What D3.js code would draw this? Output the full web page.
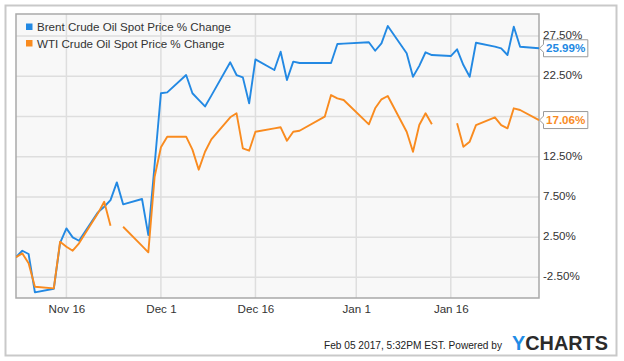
<!DOCTYPE html>
<html>
<head>
<meta charset="utf-8">
<script src="https://cdn.jsdelivr.net/npm/d3@7"></script>
<style>
  html, body { margin: 0; padding: 0; background: #fff; }
  svg { display: block; font-family: "Liberation Sans", Arial, sans-serif; }
</style>
</head>
<body>
<svg id="chart" width="624" height="361"></svg>
<script>
// ---- data ----
const dates = [
  "2016-11-08","2016-11-09","2016-11-10","2016-11-11","2016-11-14","2016-11-15","2016-11-16","2016-11-17","2016-11-18",
  "2016-11-21","2016-11-22","2016-11-23","2016-11-24","2016-11-25","2016-11-28","2016-11-29","2016-11-30",
  "2016-12-01","2016-12-02","2016-12-05","2016-12-06","2016-12-07","2016-12-08","2016-12-09",
  "2016-12-12","2016-12-13","2016-12-14","2016-12-15","2016-12-16","2016-12-19","2016-12-20","2016-12-21",
  "2016-12-22","2016-12-23","2016-12-27","2016-12-28","2016-12-29","2016-12-30",
  "2017-01-03","2017-01-04","2017-01-05","2017-01-06","2017-01-09","2017-01-10","2017-01-11","2017-01-12",
  "2017-01-13","2017-01-16","2017-01-17","2017-01-18","2017-01-19","2017-01-20","2017-01-23","2017-01-24",
  "2017-01-25","2017-01-26","2017-01-27","2017-01-30"
];
const brent = [
  0.00, 0.81, 0.40, -4.37, -3.92, 1.80, 3.59, 2.47, 2.05,
  5.58, 6.28, 7.11, 9.31, 6.58, 7.24, 2.76, 11.50,
  20.39, 20.50, 22.66, 20.39, 19.58, 18.75, 20.10,
  24.24, 22.66, 22.37, 19.14, 24.61, 23.28, 25.56, 22.04,
  24.32, 24.15, 24.15, 24.15, 26.52, 26.57,
  26.73, 25.68, 26.60, 28.76, 25.36, 22.45, 23.80, 25.49,
  25.15, 25.02, 25.86, 23.90, 22.45, 26.68, 26.20, 25.98,
  25.15, 28.67, 26.18, 25.99
];
const wti = [
  0.00, 0.48, -0.76, -3.67, -3.87, 1.93, 1.31, 0.81, 1.73,
  5.46, 6.90, 3.92, null, 3.79, 1.42, 0.61, 10.01,
  13.67, 14.99, 14.99, 13.38, 10.89, 13.12, 14.66,
  17.40, 17.90, 13.54, 13.25, 15.61, 16.03, 16.16, 14.49,
  15.61, 15.73, 17.48, 20.17, 19.76, 19.55,
  16.53, 18.52, 19.64, 20.05, 15.61, 13.12, 16.44, 17.90,
  16.53, null, 16.65, 13.74, 14.37, 16.44, 17.40, 16.44,
  16.03, 18.52, 18.31, 17.06
];
const seriesNames = ["Brent Crude Oil Spot Price % Change", "WTI Crude Oil Spot Price % Change"];
const seriesColors = ["#2389e3", "#f98b1f"];
const yTickValues = [-2.5, 2.5, 7.5, 12.5, 17.5, 22.5, 27.5];
const xTickDates = ["2016-11-16", "2016-12-01", "2016-12-16", "2017-01-01", "2017-01-16"];
const footerText = "Feb 05 2017, 5:32PM EST. Powered by";

// ---- layout ----
const svg = d3.select("#chart");
const plot = { left: 16, top: 14, right: 539, bottom: 298 };
const FONT = 11.6;
const parse = s => { const [y, m, d] = s.split("-").map(Number); return new Date(Date.UTC(y, m - 1, d)); };
const dateObjs = dates.map(parse);

const x = d3.scaleUtc()
  .domain([parse("2016-11-08"), parse("2017-01-30")])
  .range([plot.left, plot.right]);
const y = d3.scaleLinear()
  .domain([-5.07, 30.25])
  .range([plot.bottom, plot.top]);

// outer frame
svg.append("rect").attr("x", 5.5).attr("y", 5.5).attr("width", 611).attr("height", 350)
  .attr("fill", "#fff").attr("stroke", "#c9c9c9").attr("stroke-width", 2);

// plot background
svg.append("rect").attr("x", plot.left).attr("y", plot.top)
  .attr("width", plot.right - plot.left).attr("height", plot.bottom - plot.top)
  .attr("fill", "#f8f8f8");

// gridlines
const grid = svg.append("g").attr("stroke", "#dedede").attr("stroke-width", 1.5);
grid.selectAll(".hg").data(yTickValues).enter().append("line")
  .attr("x1", plot.left).attr("x2", plot.right)
  .attr("y1", d => y(d)).attr("y2", d => y(d));
grid.selectAll(".vg").data(xTickDates.map(parse)).enter().append("line")
  .attr("y1", plot.top).attr("y2", plot.bottom)
  .attr("x1", d => x(d)).attr("x2", d => x(d));

// plot frame
svg.append("rect").attr("x", plot.left).attr("y", plot.top)
  .attr("width", plot.right - plot.left).attr("height", plot.bottom - plot.top)
  .attr("fill", "none").attr("stroke", "#a9a9a9").attr("stroke-width", 1.5);

// clip
svg.append("clipPath").attr("id", "clip").append("rect")
  .attr("x", plot.left).attr("y", plot.top - 2)
  .attr("width", plot.right - plot.left + 1).attr("height", plot.bottom - plot.top + 4);

// lines
const series = [brent, wti];
series.forEach((vals, i) => {
  const pts = dateObjs.map((d, k) => ({ d, v: vals[k] }));
  const line = d3.line()
    .defined(p => p.v !== null)
    .x(p => x(p.d)).y(p => y(p.v));
  svg.append("path").attr("clip-path", "url(#clip)")
    .attr("d", line(pts))
    .attr("fill", "none").attr("stroke", seriesColors[i])
    .attr("stroke-width", 1.9).attr("stroke-linejoin", "round");
});

// legend
const legend = svg.append("g");
seriesNames.forEach((name, i) => {
  const by = 31 + i * 16.5;
  legend.append("rect").attr("x", 26).attr("y", by - 7.5).attr("width", 6.5).attr("height", 6.5)
    .attr("fill", seriesColors[i]);
  legend.append("text").attr("x", 37).attr("y", by)
    .attr("font-size", FONT).attr("fill", "#333").text(name);
});

// y axis (right)
const yAxis = d3.axisRight(y).tickValues(yTickValues)
  .tickFormat(v => v.toFixed(2) + "%").tickSize(0).tickPadding(4);
const gy = svg.append("g").attr("transform", `translate(${plot.right},0)`).call(yAxis);
gy.select(".domain").remove();
gy.selectAll("text").attr("font-size", FONT).attr("font-family", "Liberation Sans, Arial, sans-serif")
  .attr("fill", "#333").attr("dy", "0.22em");

// x axis
const xAxis = d3.axisBottom(x).tickValues(xTickDates.map(parse))
  .tickFormat(d3.utcFormat("%b %-d")).tickSize(0).tickPadding(6.8);
const gx = svg.append("g").attr("transform", `translate(0,${plot.bottom})`).call(xAxis);
gx.select(".domain").remove();
gx.selectAll("text").attr("font-size", FONT).attr("font-family", "Liberation Sans, Arial, sans-serif")
  .attr("fill", "#333");

// last value labels
const lastVals = series.map(vals => vals[vals.length - 1]);
// hide axis labels covered by value labels
gy.selectAll(".tick").each(function (t) {
  if (lastVals.some(v => Math.abs(y(v) - y(t)) < 10)) d3.select(this).remove();
});
lastVals.forEach((v, i) => {
  const cy = y(v);
  const g = svg.append("g");
  const box = g.append("path");
  const txt = g.append("text").attr("x", 546).attr("y", cy + 4.2)
    .attr("font-size", FONT).attr("font-weight", "bold").attr("fill", seriesColors[i])
    .text(v.toFixed(2) + "%");
  const w = txt.node().getComputedTextLength();
  const L = 543.5, R = 546 + w + 2.5, T = cy - 8.5, B = cy + 8.5, tip = 539.5;
  box.attr("d", `M${tip},${cy} L${L},${cy - 4} L${L},${T} L${R},${T} L${R},${B} L${L},${B} L${L},${cy + 4} Z`)
    .attr("fill", "#fff").attr("stroke", "#9a9a9a").attr("stroke-width", 1);
});

// footer
svg.append("text").attr("x", 324).attr("y", 348.5)
  .attr("font-size", 10.3).attr("fill", "#222")
  .attr("textLength", 178).attr("lengthAdjust", "spacingAndGlyphs")
  .text(footerText);
const logo = svg.append("text").attr("x", 512).attr("y", 350)
  .attr("font-size", 21).attr("font-weight", "bold")
  .attr("textLength", 96).attr("lengthAdjust", "spacingAndGlyphs");
logo.append("tspan").attr("fill", "#1f8ce6").text("Y");
logo.append("tspan").attr("fill", "#2b2b2b").text("CHARTS");
</script>
</body>
</html>
